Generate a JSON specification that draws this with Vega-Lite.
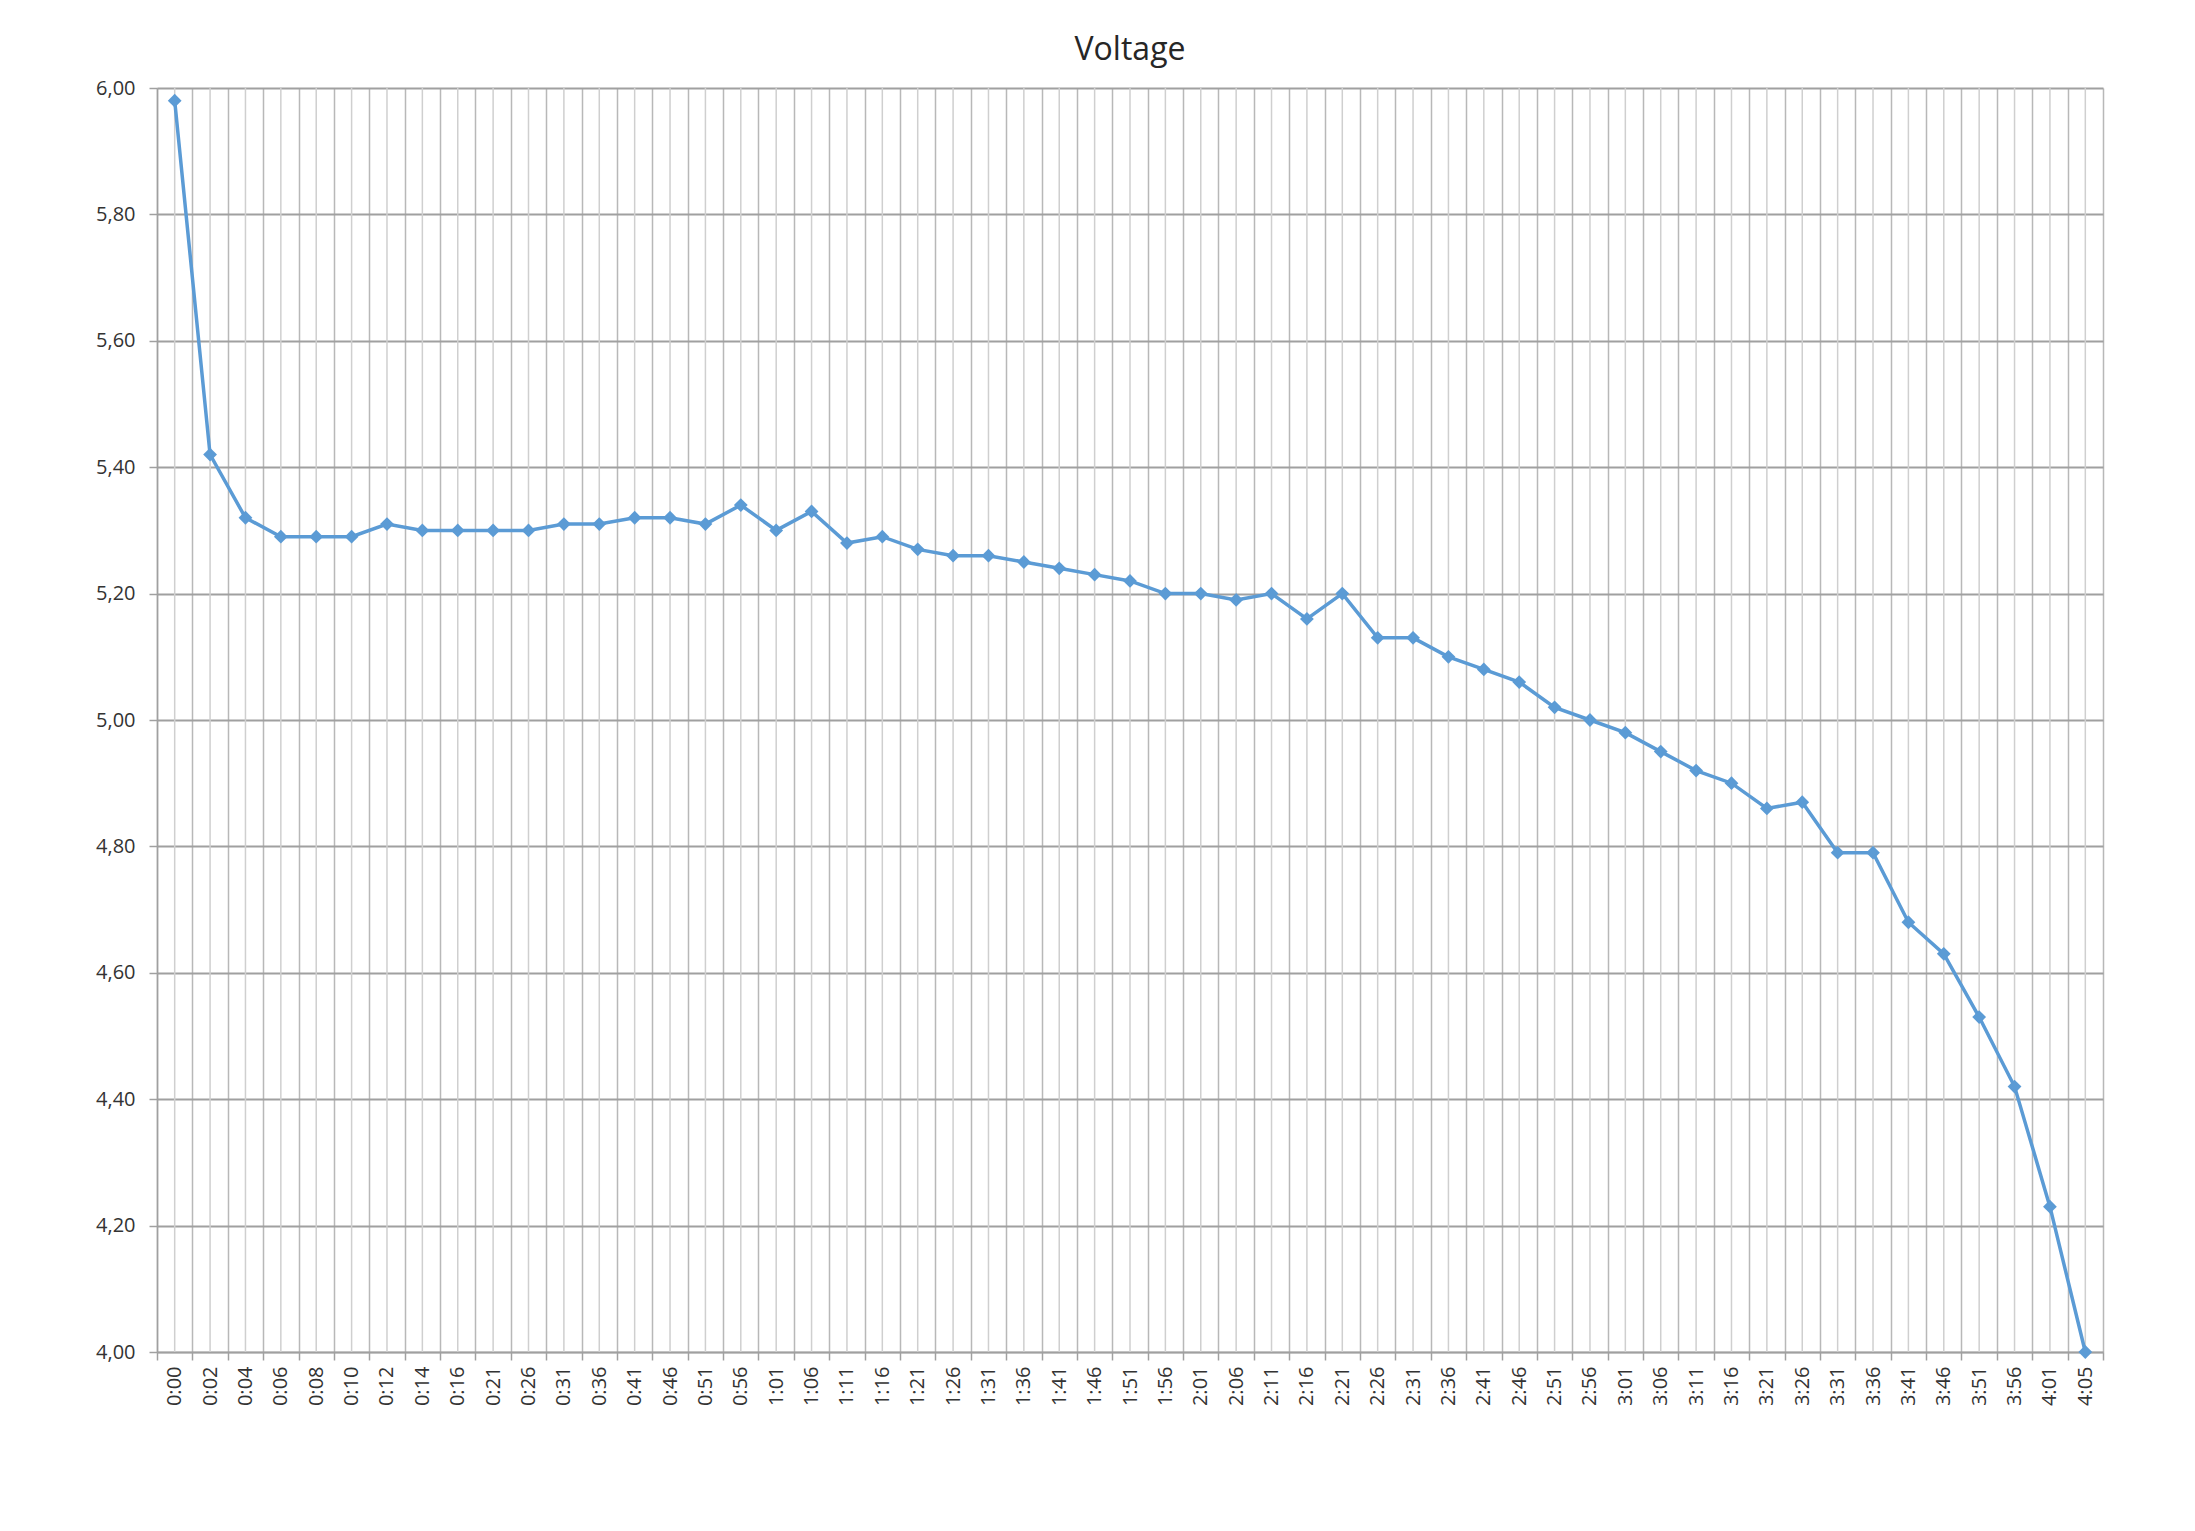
{
  "$schema": "https://vega.github.io/schema/vega-lite/v6.json",
  "autosize": {"type": "none"},
  "padding": {"left": 157, "top": 88, "right": 92, "bottom": 179},
  "width": 1946,
  "height": 1264,
  "background": "white",
  "title": {"text": "Voltage", "font": "Open Sans", "fontSize": 32, "fontWeight": "normal", "color": "#262626", "anchor": "middle", "baseline": "alphabetic", "offset": 26, "dy": 40},
  "config": {"view": {"stroke": null}},
  "data": {"values": [
    {"t": "0:00", "v": 5.98}, {"t": "0:02", "v": 5.42}, {"t": "0:04", "v": 5.32}, {"t": "0:06", "v": 5.29},
    {"t": "0:08", "v": 5.29}, {"t": "0:10", "v": 5.29}, {"t": "0:12", "v": 5.31}, {"t": "0:14", "v": 5.30},
    {"t": "0:16", "v": 5.30}, {"t": "0:21", "v": 5.30}, {"t": "0:26", "v": 5.30}, {"t": "0:31", "v": 5.31},
    {"t": "0:36", "v": 5.31}, {"t": "0:41", "v": 5.32}, {"t": "0:46", "v": 5.32}, {"t": "0:51", "v": 5.31},
    {"t": "0:56", "v": 5.34}, {"t": "1:01", "v": 5.30}, {"t": "1:06", "v": 5.33}, {"t": "1:11", "v": 5.28},
    {"t": "1:16", "v": 5.29}, {"t": "1:21", "v": 5.27}, {"t": "1:26", "v": 5.26}, {"t": "1:31", "v": 5.26},
    {"t": "1:36", "v": 5.25}, {"t": "1:41", "v": 5.24}, {"t": "1:46", "v": 5.23}, {"t": "1:51", "v": 5.22},
    {"t": "1:56", "v": 5.20}, {"t": "2:01", "v": 5.20}, {"t": "2:06", "v": 5.19}, {"t": "2:11", "v": 5.20},
    {"t": "2:16", "v": 5.16}, {"t": "2:21", "v": 5.20}, {"t": "2:26", "v": 5.13}, {"t": "2:31", "v": 5.13},
    {"t": "2:36", "v": 5.10}, {"t": "2:41", "v": 5.08}, {"t": "2:46", "v": 5.06}, {"t": "2:51", "v": 5.02},
    {"t": "2:56", "v": 5.00}, {"t": "3:01", "v": 4.98}, {"t": "3:06", "v": 4.95}, {"t": "3:11", "v": 4.92},
    {"t": "3:16", "v": 4.90}, {"t": "3:21", "v": 4.86}, {"t": "3:26", "v": 4.87}, {"t": "3:31", "v": 4.79},
    {"t": "3:36", "v": 4.79}, {"t": "3:41", "v": 4.68}, {"t": "3:46", "v": 4.63}, {"t": "3:51", "v": 4.53},
    {"t": "3:56", "v": 4.42}, {"t": "4:01", "v": 4.23}, {"t": "4:05", "v": 4.00}
  ]},
  "layer": [
    {
      "mark": {"type": "rule", "color": "#CFCFCF", "strokeWidth": 1.5},
      "encoding": {
        "x": {"field": "t", "type": "ordinal", "sort": null, "bandPosition": 0.5,
              "scale": {"type": "band", "paddingInner": 0, "paddingOuter": 0},
              "axis": {"title": null, "labelAngle": -90, "labelFont": "Open Sans", "labelFontSize": 20, "labelColor": "#333333", "labelPadding": 6,
                       "grid": true, "gridColor": "#B8B8B8", "gridWidth": 1.5, "tickBand": "extent", "ticks": true, "tickSize": 8, "tickColor": "#A0A0A0", "tickWidth": 1.5,
                       "domainColor": "#A0A0A0", "domainWidth": 1.5, "labelAlign": "right", "labelBaseline": "middle"}}
      }
    },
    {
      "mark": {"type": "line", "color": "#5B9BD5", "strokeWidth": 3.5, "point": {"shape": "diamond", "size": 190, "filled": true, "color": "#5B9BD5"}},
      "encoding": {
        "x": {"field": "t", "type": "ordinal", "sort": null, "bandPosition": 0.5},
        "y": {"field": "v", "type": "quantitative",
              "scale": {"domain": [4, 6], "nice": false, "zero": false},
              "axis": {"title": null, "values": [4, 4.2, 4.4, 4.6, 4.8, 5, 5.2, 5.4, 5.6, 5.8, 6],
                       "labelExpr": "replace(format(datum.value, '.2f'), '.', ',')",
                       "labelFont": "Open Sans", "labelFontSize": 20, "labelColor": "#333333", "labelPadding": 14,
                       "grid": true, "gridColor": "#A0A0A0", "gridWidth": 2, "tickSize": 8, "tickColor": "#A0A0A0", "tickWidth": 1.5,
                       "domainColor": "#A0A0A0", "domainWidth": 1.5}}
      }
    }
  ]
}
